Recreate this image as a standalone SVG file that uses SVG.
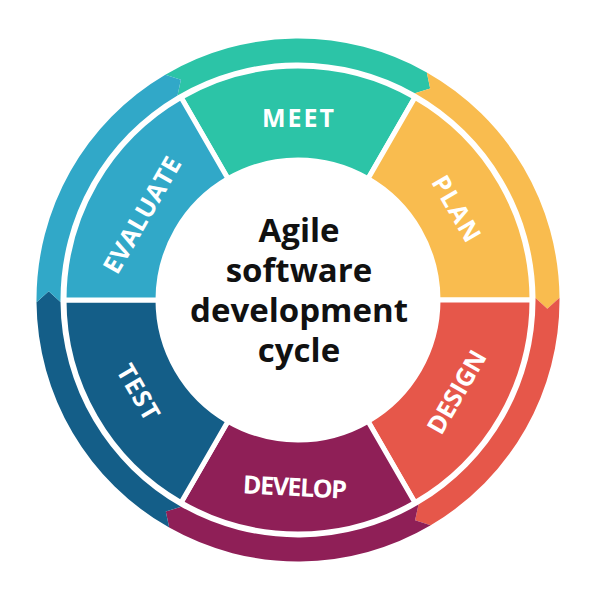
<svg xmlns="http://www.w3.org/2000/svg" width="598" height="600" viewBox="0 0 598 600">
  <style>
    .seg { stroke: #ffffff; stroke-width: 5; stroke-linejoin: round; }
    .lbl { font-family: "Open Sans", "Liberation Sans", sans-serif; font-weight: 700; font-size: 25px; fill: #ffffff; text-anchor: middle; }
    .title { font-family: "Open Sans", "Liberation Sans", sans-serif; font-weight: 700; font-size: 33px; fill: #111111; text-anchor: middle; }
    .teal { fill: #2cc4a7; }
    .orange { fill: #f9bc4f; }
    .red { fill: #e6574a; }
    .maroon { fill: #8f1f57; }
    .dblue { fill: #145e88; }
    .lblue { fill: #31a8c8; }
  </style>
  <rect width="598" height="600" fill="#ffffff"/>

  <g id="connectors">
    <path class="teal" d="M165.3,74.7 A261.5,261.5 0 0 1 426.8,72.4 L430.2,88.4 L414.9,93.3 A237.5,237.5 0 0 0 177.5,95.4 L180.9,79.7 Z"/>
    <path class="orange" d="M426.8,72.4 A261.5,261.5 0 0 1 559.5,297.7 L547.3,308.7 L535.5,297.9 A237.5,237.5 0 0 0 414.9,93.3 L430.2,88.4 Z"/>
    <path class="red" d="M559.5,297.7 A261.5,261.5 0 0 1 430.7,525.3 L415.1,520.3 L418.5,504.6 A237.5,237.5 0 0 0 535.5,297.9 L547.3,308.7 Z"/>
    <path class="maroon" d="M430.7,525.3 A261.5,261.5 0 0 1 169.2,527.6 L165.8,511.6 L181.1,506.7 A237.5,237.5 0 0 0 418.5,504.6 L415.1,520.3 Z"/>
    <path class="dblue" d="M169.2,527.6 A261.5,261.5 0 0 1 36.5,302.3 L48.7,291.3 L60.5,302.1 A237.5,237.5 0 0 0 181.1,506.7 L165.8,511.6 Z"/>
    <path class="lblue" d="M36.5,302.3 A261.5,261.5 0 0 1 165.3,74.7 L180.9,79.7 L177.5,95.4 A237.5,237.5 0 0 0 60.5,302.1 L48.7,291.3 Z"/>
  </g>

  <g id="meet">
    <path class="seg teal" d="M181,97.35 A234,234 0 0 1 415,97.35 L368,178.76 A140,140 0 0 0 228,178.76 Z"/>
    <text class="lbl" x="298" y="127" textLength="72">MEET</text>
  </g>
  <g id="plan">
    <path class="seg orange" d="M415,97.35 A234,234 0 0 1 532,300 L438,300 A140,140 0 0 0 368,178.76 Z"/>
    <text class="lbl" transform="translate(456.5,208.5) rotate(60)" x="0" y="9" textLength="72">PLAN</text>
  </g>
  <g id="design">
    <path class="seg red" d="M532,300 A234,234 0 0 1 415,502.65 L368,421.24 A140,140 0 0 0 438,300 Z"/>
    <text class="lbl" transform="translate(456.5,392) rotate(-60)" x="0" y="9" textLength="92">DESIGN</text>
  </g>
  <g id="develop">
    <path class="seg maroon" d="M415,502.65 A234,234 0 0 1 181,502.65 L228,421.24 A140,140 0 0 0 368,421.24 Z"/>
    <text class="lbl" transform="translate(295,487) rotate(3)" x="0" y="9" textLength="104">DEVELOP</text>
  </g>
  <g id="test">
    <path class="seg dblue" d="M181,502.65 A234,234 0 0 1 64,300 L158,300 A140,140 0 0 0 228,421.24 Z"/>
    <text class="lbl" transform="translate(138.5,392) rotate(60)" x="0" y="9" textLength="60">TEST</text>
  </g>
  <g id="evaluate">
    <path class="seg lblue" d="M64,300 A234,234 0 0 1 181,97.35 L228,178.76 A140,140 0 0 0 158,300 Z"/>
    <text class="lbl" transform="translate(142,215) rotate(-60)" x="0" y="9" textLength="130">EVALUATE</text>
  </g>

  <g id="center">
    <text class="title" x="299" y="242"><tspan x="299" y="242">Agile</tspan><tspan x="299" y="282">software</tspan><tspan x="299" y="322">development</tspan><tspan x="299" y="362">cycle</tspan></text>
  </g>
</svg>
